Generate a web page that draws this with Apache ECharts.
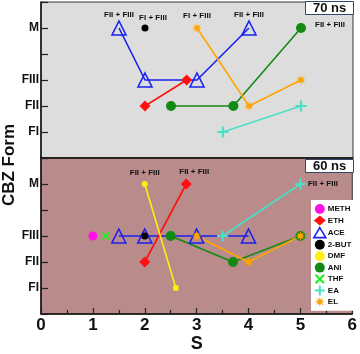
<!DOCTYPE html>
<html>
<head>
<meta charset="utf-8">
<script src="https://cdn.jsdelivr.net/npm/echarts@6/dist/echarts.min.js"></script>
<style>html,body{margin:0;padding:0;background:#fff}#c{width:360px;height:354px}</style>
</head>
<body>
<div id="c"></div>
<script>
// ---- data ----
const yTickLabels = ['', 'FI', 'FII', 'FIII', '', 'M', ''];
const xTickLabels = ['0', '1', '2', '3', '4', '5', '6'];
const panelTitles = ['70 ns', '60 ns'];
const legendNames = ['METH', 'ETH', 'ACE', '2-BUT', 'DMF', 'ANI', 'THF', 'EA', 'EL'];

// 70 ns panel
const ace70 = [[1.5, 5], [2, 3], [3, 3], [4, 5]];
const but70 = [[2, 5]];
const eth70 = [[2, 2], [2.8, 3]];
const ani70 = [[2.5, 2], [3.7, 2], [5, 5]];
const el70  = [[3, 5], [4, 2], [5, 3]];
const ea70  = [[3.5, 1], [5, 2]];

// 60 ns panel
const meth60 = [[1, 3]];
const thf60  = [[1.25, 3]];
const ace60  = [[1.5, 3], [2, 3], [3, 3], [4, 3]];
const but60  = [[2, 3]];
const eth60  = [[2, 2], [2.8, 5]];
const dmf60  = [[2, 5], [2.6, 1]];
const ani60  = [[2.5, 3], [3.7, 2], [5, 3]];
const el60   = [[3, 3], [4, 2], [5, 3]];
const ea60   = [[3.5, 3], [5, 5]];

// point annotations: [series name, point index, text]
const notes70 = [['ACE', 0, 'FII + FIII'], ['2-BUT', 0, 'FI + FIII'], ['EL', 0, 'FI + FIII'], ['ACE', 3, 'FII + FIII'], ['ANI', 2, 'FII + FIII']];
const notes60 = [['DMF', 0, 'FII + FIII'], ['ETH', 1, 'FII + FIII'], ['EA', 1, 'FII + FIII']];

// ---- styles ----
const PLUS = 'path://M4,0h2v4h4v2h-4v4h-2v-4h-4v-2h4z';
const CROSS = 'path://M0,1.5L1.5,0L5,3.5L8.5,0L10,1.5L6.5,5L10,8.5L8.5,10L5,6.5L1.5,10L0,8.5L3.5,5Z';
const STAR = 'path://M10,5L7.03,5.84L8.54,8.54L5.84,7.03L5,10L4.16,7.03L1.46,8.54L2.97,5.84L0,5L2.97,4.16L1.46,1.46L4.16,2.97L5,0L5.84,2.97L8.54,1.46L7.03,4.16Z';
const sty = {
  'METH': {color: '#ff10e8', symbol: 'circle', size: 9},
  'ETH':  {color: '#ff1010', symbol: 'diamond', size: 11},
  'ACE':  {color: '#1a22f0', symbol: 'triangle', size: 14, hollow: true},
  '2-BUT':{color: '#000000', symbol: 'circle', size: 7},
  'DMF':  {color: '#ffee10', symbol: 'circle', size: 6},
  'ANI':  {color: '#138a13', symbol: 'circle', size: 10},
  'THF':  {color: '#22ee22', symbol: CROSS, size: 8},
  'EA':   {color: '#48e0c8', symbol: PLUS, size: 11},
  'EL':   {color: '#ffa400', symbol: STAR, size: 10}
};
const legendIcon = {
  'METH': 'circle', 'ETH': 'diamond', 'ACE': 'triangle', '2-BUT': 'circle', 'DMF': 'circle',
  'ANI': 'circle', 'THF': CROSS, 'EA': PLUS, 'EL': STAR
};

function noteFor(notes, name, idx) {
  const n = notes.find(a => a[0] === name && a[1] === idx);
  return n ? n[2] : null;
}
const labelPlace = {
  '70|ACE|0': {position: 'top', distance: 1},
  '70|2-BUT|0': {position: 'top', distance: 3, offset: [8, 0]},
  '70|EL|0': {position: 'top', distance: 3},
  '70|ACE|3': {position: 'top', distance: 1},
  '70|ANI|2': {position: 'right', distance: 9, offset: [0, -3]},
  '60|DMF|0': {position: 'top', distance: 4},
  '60|ETH|1': {position: 'top', distance: 3, offset: [8, 0]},
  '60|EA|1': {position: 'right', distance: 2}
};

function mk(name, data, panel, notes) {
  const s = sty[name];
  const items = data.map((p, i) => {
    const t = noteFor(notes, name, i);
    if (!t) return p;
    const pl = labelPlace[(panel === 0 ? '70' : '60') + '|' + name + '|' + i];
    return {value: p, label: Object.assign({show: true, formatter: t, color: '#111', fontSize: 8, fontWeight: 'bold', fontFamily: 'Liberation Sans, Arial, sans-serif'}, pl)};
  });
  return {
    name: name, type: 'line', xAxisIndex: panel, yAxisIndex: panel,
    data: items, symbol: s.symbol, symbolSize: s.size, showSymbol: true,
    lineStyle: {color: s.color, width: 1.6},
    itemStyle: s.hollow ? {color: 'rgba(0,0,0,0)', borderColor: s.color, borderWidth: 1.6} : {color: s.color, borderWidth: 0},
    emphasis: {disabled: true}, silent: true, z: 3
  };
}

const series = [
  mk('ACE', ace70, 0, notes70), mk('ETH', eth70, 0, notes70), mk('ANI', ani70, 0, notes70),
  mk('EL', el70, 0, notes70), mk('EA', ea70, 0, notes70), mk('2-BUT', but70, 0, notes70),
  mk('ACE', ace60, 1, notes60), mk('ETH', eth60, 1, notes60), mk('DMF', dmf60, 1, notes60),
  mk('ANI', ani60, 1, notes60), mk('EL', el60, 1, notes60), mk('EA', ea60, 1, notes60),
  mk('METH', meth60, 1, notes60), mk('THF', thf60, 1, notes60), mk('2-BUT', but60, 1, notes60)
];

function xAx(gi, labels) {
  return {
    gridIndex: gi, type: 'value', min: 0, max: 6, interval: 1,
    axisLine: {show: true, lineStyle: {color: '#111', width: 1.5}},
    axisTick: {show: labels, inside: true, length: 6, lineStyle: {color: '#222', width: 1.2}},
    minorTick: {show: labels, splitNumber: 2, length: 4, lineStyle: {color: '#222', width: 1.2}},
    axisLabel: {show: labels, formatter: v => xTickLabels[v], fontSize: 17, fontWeight: 'bold', color: '#111', margin: 3, fontFamily: 'Liberation Sans, Arial, sans-serif'},
    splitLine: {show: false},
    name: labels ? 'S' : '', nameLocation: 'middle', nameGap: 21,
    nameTextStyle: {fontSize: 18, fontWeight: 'bold', color: '#111', fontFamily: 'Liberation Sans, Arial, sans-serif'}
  };
}
function yAx(gi) {
  return {
    gridIndex: gi, type: 'value', min: 0, max: 6, interval: 1,
    axisLine: {show: true, lineStyle: {color: '#111', width: 1.5}},
    axisTick: {show: true, inside: true, length: 7, lineStyle: {color: '#222', width: 1.2}},
    axisLabel: {formatter: v => yTickLabels[v], fontSize: 12, fontWeight: 'bold', color: '#111', margin: 2, fontFamily: 'Liberation Sans, Arial, sans-serif'},
    splitLine: {show: false}
  };
}

const chart = echarts.init(document.getElementById('c'), null, {renderer: 'canvas'});
chart.setOption({
  animation: false,
  backgroundColor: '#ffffff',
  title: panelTitles.map((t, i) => ({
    text: t, left: 305, top: i === 0 ? 1 : 159,
    padding: [0, 8, 0, 8], backgroundColor: '#ffffff', borderColor: '#34466e', borderWidth: 1,
    textStyle: {fontSize: 13, fontWeight: 'bold', color: '#111', lineHeight: 14, fontFamily: 'Liberation Sans, Arial, sans-serif'}
  })),
  grid: [
    {left: 41, top: 2, width: 312, height: 156, show: true, backgroundColor: '#dddddd', borderColor: '#333', borderWidth: 1},
    {left: 41, top: 158, width: 312, height: 156, show: true, backgroundColor: '#b98b8a', borderColor: '#333', borderWidth: 1}
  ],
  xAxis: [xAx(0, false), xAx(1, true)],
  yAxis: [yAx(0), yAx(1)],
  legend: {
    orient: 'vertical', left: 311, top: 200,
    backgroundColor: '#ffffff', borderWidth: 0,
    padding: [4, 3, 4, 2], itemGap: 1.4, itemWidth: 12, itemHeight: 10,
    selectedMode: false,
    textStyle: {fontSize: 8, fontWeight: 'bold', color: '#111', padding: [0, 0, 0, -3], fontFamily: 'Liberation Sans, Arial, sans-serif'},
    data: legendNames.map(n => ({
      name: n, icon: legendIcon[n],
      itemStyle: sty[n].hollow ? {color: '#ffffff', borderColor: sty[n].color, borderWidth: 1.6} : {color: sty[n].color, borderWidth: 0}
    }))
  },
  graphic: [{
    type: 'text', x: 9, y: 165, rotation: Math.PI / 2,
    style: {text: 'CBZ Form', font: 'bold 17px "Liberation Sans", Arial, sans-serif', fill: '#111', align: 'center', verticalAlign: 'middle'}
  }],
  series: series
});
</script>
</body>
</html>
